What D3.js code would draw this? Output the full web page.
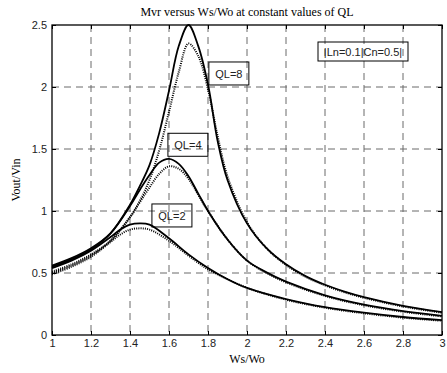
<!DOCTYPE html>
<html><head><meta charset="utf-8">
<script src="https://cdn.jsdelivr.net/npm/d3@7"></script>
<style>body{margin:0;background:#fff}svg{display:block}</style>
</head><body>
<svg id="c" width="447" height="373"></svg>
<script>
const xTicks = [1,1.2,1.4,1.6,1.8,2,2.2,2.4,2.6,2.8,3];
const yTicks = [0,0.5,1,1.5,2,2.5];
const title = "Mvr versus Ws/Wo at constant values of QL";
const xLabel = "Ws/Wo";
const yLabel = "Vout/Vin";
const paramText = "|Ln=0.1|Cn=0.5|";

const x8s = [1.0,1.1,1.2,1.3,1.4,1.45,1.5,1.55,1.6,1.65,1.7,1.75,1.8,1.85,1.9,2.0,2.1,2.2,2.3,2.4,2.5,2.6,2.8,3.0];
const y8s = [0.56,0.62,0.70,0.82,1.05,1.20,1.37,1.63,1.97,2.33,2.50,2.33,2.02,1.56,1.25,0.90,0.70,0.57,0.475,0.405,0.35,0.305,0.235,0.185];
const x8d = [1.0,1.1,1.2,1.3,1.4,1.45,1.5,1.55,1.6,1.65,1.7,1.75,1.8,1.85,1.9,2.0,2.1,2.2,2.3,2.4,2.5,2.6,2.8,3.0];
const y8d = [0.51,0.57,0.65,0.76,0.95,1.08,1.25,1.49,1.80,2.12,2.35,2.25,1.98,1.60,1.28,0.91,0.70,0.565,0.47,0.40,0.345,0.30,0.23,0.18];

const x4s = [1.0,1.1,1.2,1.3,1.4,1.45,1.5,1.55,1.6,1.65,1.7,1.75,1.8,1.9,2.0,2.1,2.2,2.4,2.6,2.8,3.0];
const y4s = [0.55,0.61,0.69,0.82,1.04,1.17,1.29,1.39,1.42,1.38,1.28,1.14,1.00,0.77,0.60,0.505,0.43,0.32,0.245,0.193,0.155];
const x4d = [1.0,1.1,1.2,1.3,1.4,1.45,1.5,1.55,1.6,1.65,1.7,1.75,1.8,1.9,2.0,2.1,2.2,2.4,2.6,2.8,3.0];
const y4d = [0.50,0.56,0.64,0.76,0.95,1.07,1.19,1.30,1.36,1.34,1.26,1.13,1.00,0.77,0.60,0.50,0.425,0.315,0.24,0.188,0.15];

const x2s = [1.0,1.1,1.2,1.3,1.35,1.4,1.45,1.5,1.6,1.7,1.8,1.9,2.0,2.2,2.4,2.6,2.8,3.0];
const y2s = [0.54,0.60,0.68,0.79,0.85,0.89,0.90,0.89,0.78,0.65,0.54,0.45,0.38,0.29,0.225,0.18,0.145,0.12];
const x2d = [1.0,1.1,1.2,1.3,1.35,1.4,1.45,1.5,1.6,1.7,1.8,1.9,2.0,2.2,2.4,2.6,2.8,3.0];
const y2d = [0.49,0.55,0.63,0.75,0.81,0.85,0.86,0.85,0.76,0.64,0.53,0.45,0.38,0.285,0.22,0.175,0.14,0.115];

const labels = [{t:"QL=8", x:1.907, y:2.105}, {t:"QL=4", x:1.697, y:1.53}, {t:"QL=2", x:1.615, y:0.96}];

const svg = d3.select("#c");
const L=52, R=442, T=25, B=335;
const xs = d3.scaleLinear().domain([1,3]).range([L,R]);
const ys = d3.scaleLinear().domain([0,2.5]).range([B,T]);

// grid
const g = svg.append("g").attr("stroke","#6a6a6a").attr("stroke-width",1).attr("stroke-dasharray","7,5");
xTicks.slice(1,-1).forEach(v=>g.append("line").attr("x1",xs(v)).attr("x2",xs(v)).attr("y1",T).attr("y2",B));
yTicks.slice(1,-1).forEach(v=>g.append("line").attr("y1",ys(v)).attr("y2",ys(v)).attr("x1",L).attr("x2",R));

// axes
const fontSans = "Liberation Sans, Arial, sans-serif";
const ax = svg.append("g").attr("transform",`translate(0,${B})`).call(d3.axisBottom(xs).tickValues(xTicks).tickSize(-4).tickPadding(4).tickFormat(d3.format("")));
const ay = svg.append("g").attr("transform",`translate(${L},0)`).call(d3.axisLeft(ys).tickValues(yTicks).tickSize(-4).tickPadding(5).tickFormat(d3.format("")));
const axt = svg.append("g").attr("transform",`translate(0,${T})`).call(d3.axisTop(xs).tickValues(xTicks).tickSize(-4).tickFormat(""));
const ayr = svg.append("g").attr("transform",`translate(${R},0)`).call(d3.axisRight(ys).tickValues(yTicks).tickSize(-4).tickFormat(""));
[ax,ay,axt,ayr].forEach(a=>{
  a.select(".domain").remove();
  a.selectAll("line").attr("stroke","#000");
  a.selectAll("text").attr("font-family",fontSans).attr("font-size",11).attr("fill","#222");
});
svg.append("rect").attr("x",L).attr("y",T).attr("width",R-L).attr("height",B-T).attr("fill","none").attr("stroke","#000").attr("stroke-width",1.3);

// curves
const line = d3.line().x(d=>xs(d[0])).y(d=>ys(d[1])).curve(d3.curveCatmullRom.alpha(0.5));
const series = [[x8s,y8s,false],[x8d,y8d,true],[x4s,y4s,false],[x4d,y4d,true],[x2s,y2s,false],[x2d,y2d,true]];
const cg = svg.append("g").attr("fill","none").attr("stroke","#000");
series.forEach(([xa,ya,dot])=>{
  const p = cg.append("path").datum(xa.map((v,i)=>[v,ya[i]])).attr("d",line);
  if(dot) p.attr("stroke-width",2).attr("stroke-dasharray","1,1.2");
  else p.attr("stroke-width",1.8);
});

// labels
labels.forEach(l=>{
  const cx = xs(l.x)-xs(1)+L, cy = ys(l.y);
  svg.append("rect").attr("x",cx-20).attr("y",cy-12).attr("width",40).attr("height",23).attr("fill","none").attr("stroke","#000").attr("stroke-width",1);
  svg.append("text").attr("x",cx).attr("y",cy+4).attr("text-anchor","middle").attr("font-family",fontSans).attr("font-size",11).attr("fill","#222").text(l.t);
});
svg.append("rect").attr("x",318).attr("y",42).attr("width",90).attr("height",19).attr("fill","none").attr("stroke","#000").attr("stroke-width",1);
svg.append("text").attr("x",363).attr("y",55.5).attr("text-anchor","middle").attr("font-family",fontSans).attr("font-size",11).attr("fill","#222").text(paramText);

// titles
const fontSerif = "Liberation Serif, Times New Roman, serif";
svg.append("text").attr("x",247).attr("y",16).attr("text-anchor","middle").attr("font-family",fontSerif).attr("font-size",12).text(title);
svg.append("text").attr("x",247).attr("y",363).attr("text-anchor","middle").attr("font-family",fontSerif).attr("font-size",12).text(xLabel);
svg.append("text").attr("transform","translate(20,180) rotate(-90)").attr("text-anchor","middle").attr("font-family",fontSerif).attr("font-size",12).text(yLabel);
</script>
</body></html>
